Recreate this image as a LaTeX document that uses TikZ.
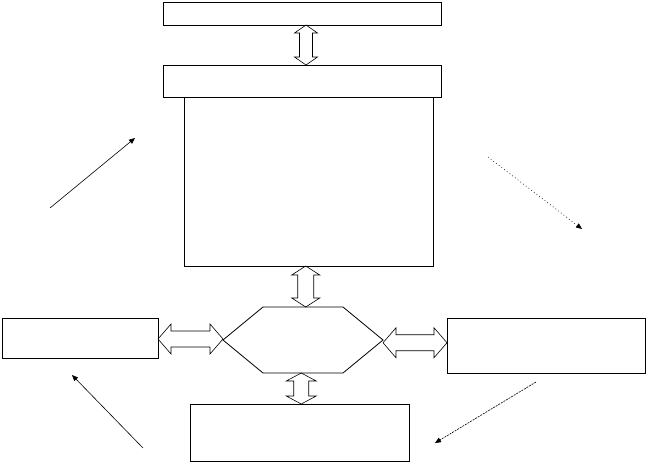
\documentclass[tikz,border=0pt]{standalone}
\usetikzlibrary{arrows.meta, calc}

\tikzset{
  box/.style={draw, line width=0.8pt, inner sep=0pt, outer sep=0pt},
  blockarrow/.style={draw, line width=0.6pt, line join=miter},
  pointer/.style={-{Triangle[length=6pt, width=5pt]}, line width=0.6pt},
}

% vertical double block arrow: #1 upper end, #2 lower end, #3 shaft, #4 head, #5 head length
\newcommand{\vblock}[5]{%
  \draw[blockarrow] let \p1=(#1), \p2=(#2), \p3=($(#1)!.5!(#2)$) in
    (\x3,\y1) -- (\x3+#4,\y1-#5) -- (\x3+#3,\y1-#5) -- (\x3+#3,\y2+#5) -- (\x3+#4,\y2+#5)
    -- (\x3,\y2) -- (\x3-#4,\y2+#5) -- (\x3-#3,\y2+#5) -- (\x3-#3,\y1-#5) -- (\x3-#4,\y1-#5) -- cycle;}
% horizontal double block arrow: #1 left end, #2 right end
\newcommand{\hblock}[5]{%
  \draw[blockarrow] let \p1=(#1), \p2=(#2), \p3=($(#1)!.5!(#2)$) in
    (\x1,\y3) -- (\x1+#5,\y3+#4) -- (\x1+#5,\y3+#3) -- (\x2-#5,\y3+#3) -- (\x2-#5,\y3+#4)
    -- (\x2,\y3) -- (\x2-#5,\y3-#4) -- (\x2-#5,\y3-#3) -- (\x1+#5,\y3-#3) -- (\x1+#5,\y3-#4) -- cycle;}

\begin{document}
\begin{tikzpicture}[x=1pt, y=-1pt]
  \useasboundingbox (0,0) rectangle (647,463);

  % Boxes
  \node[box, minimum width=278pt, minimum height=23pt] (top) at (302,13.5) {};
  \node[box, minimum width=249pt, minimum height=169pt] (big) at (308.5,181.5) {};
  \node[box, minimum width=278pt, minimum height=32pt] (mid) at (302,81) {};
  \node[box, minimum width=156pt, minimum height=40pt] (left) at (80,338) {};
  \node[box, minimum width=198pt, minimum height=55pt] (right) at (546,345.5) {};
  \node[box, minimum width=219pt, minimum height=57pt] (bot) at (299.5,432.5) {};

  % Hexagon
  \coordinate (hexW) at (223,340);
  \coordinate (hexE) at (383,340);
  \coordinate (hexN) at (303,307);
  \coordinate (hexS) at (303,373);
  \draw[line width=0.8pt] (hexW) -- ++(40,-33) -- ++(80,0) -- (hexE) -- ++(-40,33) -- ++(-80,0) -- cycle;

  % Block arrows
  \vblock{[xshift=4pt]top.south}{[xshift=4pt]mid.north}{6.5pt}{11.5pt}{8pt}
  \vblock{big.south}{hexN}{8pt}{14pt}{9pt}
  \vblock{hexS}{bot.north}{7.5pt}{15pt}{8pt}
  \hblock{left.east}{hexW}{8pt}{15pt}{13pt}
  \hblock{hexE}{right.west}{8pt}{15pt}{13pt}

  % Free arrows
  \coordinate (nwTail) at (50,208);
  \coordinate (nwTip) at (135,138);
  \coordinate (neTail) at (488,157);
  \coordinate (neTip) at (582,229);
  \coordinate (seTail) at (536,382);
  \coordinate (seTip) at (435,443);
  \coordinate (swTail) at (143,448);
  \coordinate (swTip) at (72,375);
  \draw[pointer] (nwTail) -- (nwTip);
  \draw[pointer, dash pattern=on 0.8pt off 2.6pt] (neTail) -- (neTip);
  \draw[pointer, dash pattern=on 2pt off 1pt] (seTail) -- (seTip);
  \draw[pointer] (swTail) -- (swTip);
\end{tikzpicture}
\end{document}
